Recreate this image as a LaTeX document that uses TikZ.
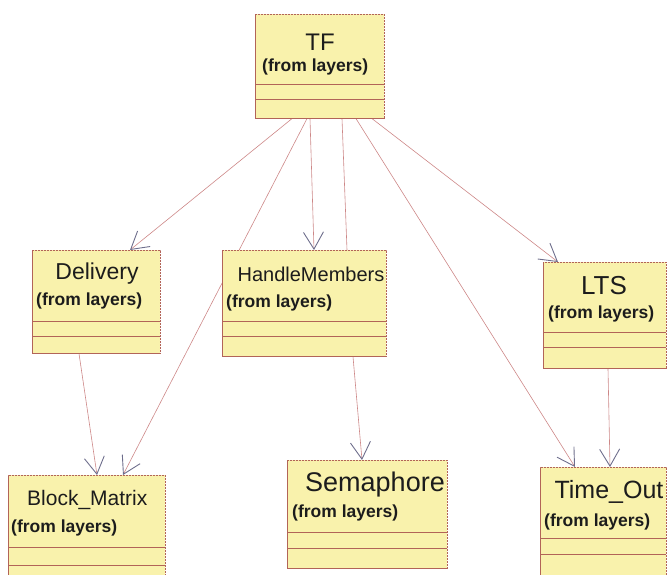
\documentclass[tikz,border=0pt]{standalone}
\usepackage{fontspec}
\setmainfont{Liberation Sans}
\usetikzlibrary{arrows.meta,calc}
\definecolor{boxfill}{RGB}{249,242,172}
\definecolor{boxline}{RGB}{178,100,88}
\definecolor{conn}{RGB}{205,135,135}
\definecolor{tipc}{RGB}{110,110,140}
\definecolor{txt}{RGB}{28,28,28}
\pgfdeclarelayer{bg}\pgfsetlayers{bg,main}
\tikzset{
 classbox/.style={draw=boxline, fill=boxfill, line width=0.6pt, dash pattern=on 2.2pt off 0.8pt, inner sep=0pt, anchor=north west},
 sepline/.style={draw=boxline, line width=0.7pt},
 ttl/.style={text=txt, inner sep=0pt},
 sub/.style={text=txt, font=\bfseries\fontsize{17.5}{17.5}\selectfont, inner sep=0pt, anchor=west},
 dep/.style={draw=conn, line width=0.6pt, -{Straight Barb[length=17pt,width=20pt,line width=0.9pt,color=tipc]}},
 link/.style={draw=conn, line width=0.6pt},
}
\begin{document}
\begin{tikzpicture}[x=1pt,y=-1pt]
\useasboundingbox (0,0) rectangle (667,574);
% boxes
\node[classbox, minimum width=129pt, minimum height=104pt] (tf) at (255,14) {};
\draw[sepline] (255,84) -- (384,84) (255,99) -- (384,99);
\node[ttl, font=\fontsize{24}{24}\selectfont] (tft) at (320,42) {TF};
\node[sub] (tfs) at (262,67) {(from layers)};

\node[classbox, minimum width=128pt, minimum height=103pt] (del) at (32,250) {};
\draw[sepline] (32,321) -- (160,321) (32,336) -- (160,336);
\node[ttl, font=\fontsize{23}{23}\selectfont] (delt) at (97,274) {Delivery};
\node[sub] (dels) at (36,301) {(from layers)};

\node[classbox, minimum width=164pt, minimum height=106pt] (hm) at (222,250) {};
\draw[sepline] (222,321) -- (386,321) (222,336) -- (386,336);
\node[ttl, font=\fontsize{20}{20}\selectfont] (hmt) at (311,274) {HandleMembers};
\node[sub] (hms) at (226,303) {(from layers)};

\node[classbox, minimum width=123pt, minimum height=106pt] (lts) at (543,262) {};
\draw[sepline] (543,332) -- (666,332) (543,347) -- (666,347);
\node[ttl, font=\fontsize{26}{26}\selectfont] (ltst) at (604,286) {LTS};
\node[sub] (ltss) at (548,314) {(from layers)};

\node[classbox, minimum width=157pt, minimum height=115pt] (bm) at (8,475) {};
\draw[sepline] (8,547) -- (165,547) (8,565) -- (165,565);
\node[ttl, font=\fontsize{21}{21}\selectfont, anchor=west] (bmt) at (27,500) {Block\_Matrix};
\node[sub] (bms) at (11,528) {(from layers)};

\node[classbox, minimum width=160pt, minimum height=108pt] (sem) at (287,460) {};
\draw[sepline] (287,532) -- (447,532) (287,548) -- (447,548);
\node[ttl, font=\fontsize{27}{27}\selectfont] (semt) at (375,485) {Semaphore};
\node[sub] (sems) at (292,513) {(from layers)};

\node[classbox, minimum width=126pt, minimum height=120pt] (to) at (540,467) {};
\draw[sepline] (540,538) -- (666,538) (540,554) -- (666,554);
\node[ttl, font=\fontsize{25}{25}\selectfont] (tot) at (609,492) {Time\_Out};
\node[sub] (tos) at (544,522) {(from layers)};

% connectors
\begin{pgfonlayer}{bg}
\draw[dep] ($(tf.south west)+(37,0)$) -- ($(del.north west)+(98,0)$);
\draw[dep] ($(tf.south west)+(52,0)$) -- ($(bm.north west)+(115,0)$);
\draw[dep] ($(tf.south west)+(55,0)$) -- ($(hm.north west)+(92,0)$);
\draw[link] ($(tf.south west)+(87,0)$) -- ($(hm.north west)+(125,0)$);
\draw[dep] ($(tf.south west)+(101,0)$) -- ($(to.north west)+(35,0)$);
\draw[dep] ($(tf.south west)+(117,0)$) -- ($(lts.north west)+(15,0)$);
\draw[dep] ($(del.south west)+(47,0)$) -- ($(bm.north west)+(89,0)$);
\draw[dep] ($(hm.south west)+(131,0)$) -- ($(sem.north west)+(75,0)$);
\draw[dep] ($(lts.south west)+(65,0)$) -- ($(to.north west)+(70,0)$);
\end{pgfonlayer}
\end{tikzpicture}
\end{document}
